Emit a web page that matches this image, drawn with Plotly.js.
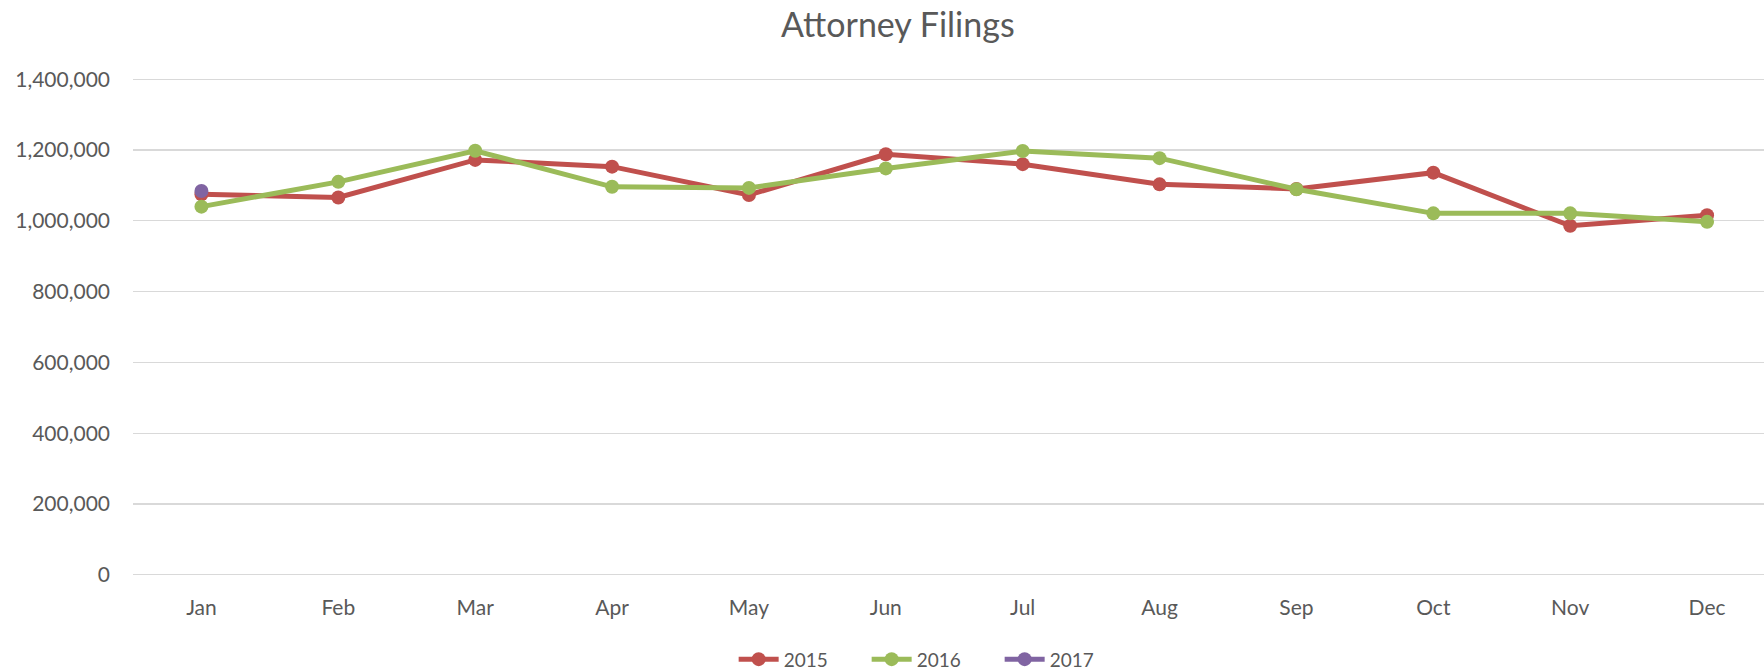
<!DOCTYPE html>
<html>
<head>
<meta charset="utf-8">
<script src="https://cdn.plot.ly/plotly-3.0.1.min.js"></script>
<style>html,body{margin:0;padding:0;background:#fff;}#chart{width:1764px;height:670px;}</style>
</head>
<body>
<div id="chart"></div>
<script>
var months = ["Jan","Feb","Mar","Apr","May","Jun","Jul","Aug","Sep","Oct","Nov","Dec"];
var filings2015 = [1075000,1066000,1172000,1153000,1073000,1188000,1160000,1103000,1090000,1136000,986000,1016000];
var filings2016 = [1040000,1110000,1198000,1096000,1093000,1148000,1197000,1177000,1089000,1021000,1021000,997000];
var filings2017 = [1084000];
var seriesNames = ["2015","2016","2017"];
var yTickVals = [0,200000,400000,600000,800000,1000000,1200000,1400000];
var yTickText = ["0","200,000","400,000","600,000","800,000","1,000,000","1,200,000","1,400,000"];

var colors = ["#C0504D","#9BBB59","#8064A2"];
var dataSets = [filings2015, filings2016, filings2017];
var traces = dataSets.map(function(vals, i){
  return {
    x: months.slice(0, vals.length),
    y: vals,
    name: seriesNames[i],
    type: "scatter",
    mode: "lines+markers",
    line: {color: colors[i], width: 5},
    marker: {color: colors[i], size: 14},
    hoverinfo: "skip"
  };
});

var font = "Lato, 'Open Sans', sans-serif";
var layout = {
  width: 1764, height: 670,
  margin: {l: 133, r: 0, t: 78, b: 94, pad: 0},
  paper_bgcolor: "#fff", plot_bgcolor: "#fff",
  font: {family: font, color: "#595959", size: 21},
  title: {text: "Attorney Filings", font: {family: font, size: 34, color: "#595959"},
          x: 0.509, xref: "container", xanchor: "center", y: 0.962, yref: "container", yanchor: "middle"},
  showlegend: true,
  legend: {orientation: "h", x: 0.529, xref: "container", xanchor: "center", y: 0.016, yref: "container", yanchor: "middle",
           font: {family: font, size: 19, color: "#595959"}, itemwidth: 40,
           entrywidth: 78, entrywidthmode: "pixels"},
  xaxis: {
    type: "category", categoryorder: "array", categoryarray: months,
    range: [-0.5, 11.416], showgrid: false, zeroline: false,
    showline: false, ticks: "", ticklabelstandoff: 17,
    tickfont: {family: font, size: 21, color: "#595959"}, fixedrange: true
  },
  yaxis: {
    range: [-3400, 1403400], tickvals: yTickVals, ticktext: yTickText,
    showgrid: true, gridcolor: "#D9D9D9", gridwidth: 1.3, zeroline: false,
    showline: false, ticks: "", ticklabelstandoff: 22,
    tickfont: {family: font, size: 21, color: "#595959"}, fixedrange: true
  },
  hovermode: false
};

Plotly.newPlot("chart", traces, layout, {staticPlot: true, displayModeBar: false});
</script>
</body>
</html>
